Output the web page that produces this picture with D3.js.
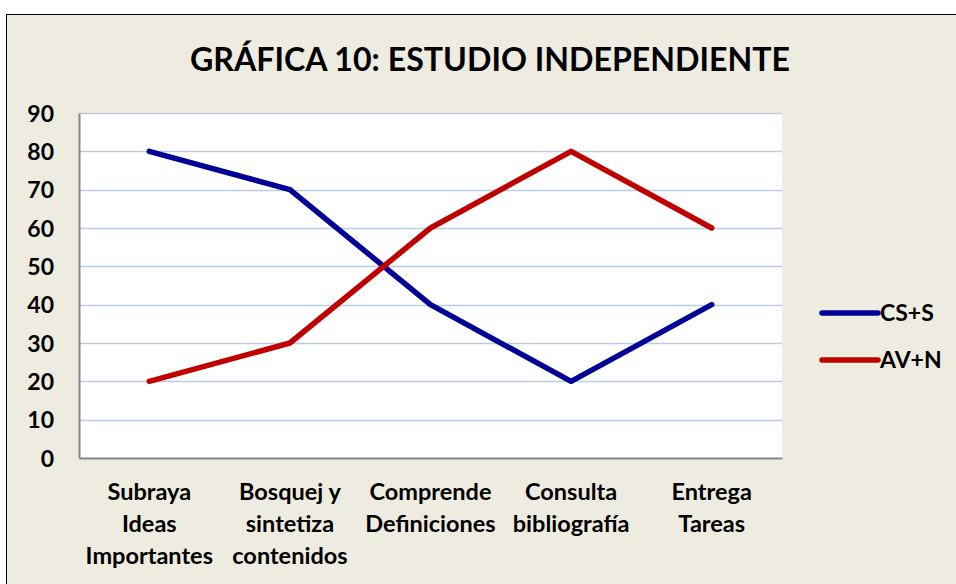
<!DOCTYPE html>
<html>
<head>
<meta charset="utf-8">
<script src="https://cdn.jsdelivr.net/npm/d3@7"></script>
<style>
  body { margin: 0; background: #fff; }
  text { font-family: Lato, "Open Sans", sans-serif; font-weight: bold; fill: #000; }
</style>
</head>
<body>
<div id="chart"></div>
<script>
// datos de la gráfica
var categorias = [
  ["Subraya", "Ideas", "Importantes"],
  ["Bosquej y", "sintetiza", "contenidos"],
  ["Comprende", "Definiciones"],
  ["Consulta", "bibliografía"],
  ["Entrega", "Tareas"]
];
var csS = [80, 70, 40, 20, 40];
var avN = [20, 30, 60, 80, 60];
var series = ["CS+S", "AV+N"];
var colores = ["#000096", "#C00000"];
var yTicks = [0, 10, 20, 30, 40, 50, 60, 70, 80, 90];

var width = 956, height = 584;
var plot = { left: 79, top: 113, right: 782, bottom: 458 };

var svg = d3.select("#chart")
  .append("svg")
  .attr("width", width)
  .attr("height", height);

// fondo y borde del gráfico
svg.append("rect")
  .attr("x", 6.5).attr("y", 14.5)
  .attr("width", 960).attr("height", 600)
  .attr("fill", "#EEECE1")
  .attr("stroke", "#000")
  .attr("stroke-width", 1);

svg.append("text")
  .attr("x", 490).attr("y", 71)
  .attr("text-anchor", "middle")
  .attr("font-size", 32.5)
  .attr("textLength", 600)
  .attr("lengthAdjust", "spacingAndGlyphs")
  .text("GRÁFICA 10: ESTUDIO INDEPENDIENTE");

let x = d3.scaleBand()
  .domain(d3.range(categorias.length))
  .range([plot.left, plot.right]);

let y = d3.scaleLinear()
  .domain([0, 90])
  .range([plot.bottom, plot.top]);

// area de trazado
svg.append("rect")
  .attr("x", plot.left).attr("y", plot.top)
  .attr("width", plot.right - plot.left)
  .attr("height", plot.bottom - plot.top)
  .attr("fill", "#fff");

// lineas de cuadricula
svg.append("g")
  .selectAll("line")
  .data(yTicks.filter(function(d) { return d > 0; }))
  .enter().append("line")
  .attr("x1", plot.left).attr("x2", plot.right)
  .attr("y1", function(d) { return Math.round(y(d)) + 0.5; })
  .attr("y2", function(d) { return Math.round(y(d)) + 0.5; })
  .attr("stroke", "#B9CDE5")
  .attr("stroke-width", 1.5);

// eje Y
let yAxis = svg.append("g")
  .attr("transform", "translate(" + plot.left + ",0)")
  .call(d3.axisLeft(y).tickValues(yTicks).tickSize(0).tickPadding(25));
yAxis.select(".domain").attr("stroke", "#868686").attr("stroke-width", 2);
yAxis.selectAll("text")
  .attr("font-size", 23)
  .attr("font-family", "Lato, sans-serif")
  .attr("font-weight", "bold")
  .attr("dy", "0.35em");

// eje X
let xAxis = svg.append("g")
  .attr("transform", "translate(0," + plot.bottom + ")")
  .call(d3.axisBottom(x).tickSize(0).tickFormat(""));
xAxis.select(".domain").attr("stroke", "#868686").attr("stroke-width", 2);

let etiquetas = svg.append("g")
  .selectAll("text")
  .data(categorias)
  .enter().append("text")
  .attr("text-anchor", "middle")
  .attr("font-size", 23.5)
  .attr("transform", function(d, i) {
    return "translate(" + (x(i) + x.bandwidth() / 2) + ",500)";
  });
etiquetas.selectAll("tspan")
  .data(function(d) { return d; })
  .enter().append("tspan")
  .attr("x", 0)
  .attr("y", function(d, i) { return i * 32; })
  .text(function(d) { return d; });

// lineas de datos
let linea = d3.line()
  .x(function(d, i) { return x(i) + x.bandwidth() / 2; })
  .y(function(d) { return y(d); });

[csS, avN].forEach(function(s, k) {
  svg.append("path")
    .datum(s)
    .attr("d", linea)
    .attr("fill", "none")
    .attr("stroke", colores[k])
    .attr("stroke-width", 5.5)
    .attr("stroke-linecap", "round")
    .attr("stroke-linejoin", "round");
});

// leyenda
let leyenda = svg.append("g")
  .selectAll("g")
  .data(series)
  .enter().append("g")
  .attr("transform", function(d, i) { return "translate(822," + (313 + i * 47) + ")"; });
leyenda.append("line")
  .attr("x1", 0).attr("x2", 56)
  .attr("stroke", function(d, i) { return colores[i]; })
  .attr("stroke-width", 5.5)
  .attr("stroke-linecap", "round");
leyenda.append("text")
  .attr("x", 58).attr("dy", "0.35em")
  .attr("font-size", 23)
  .text(function(d) { return d; });
</script>
</body>
</html>
